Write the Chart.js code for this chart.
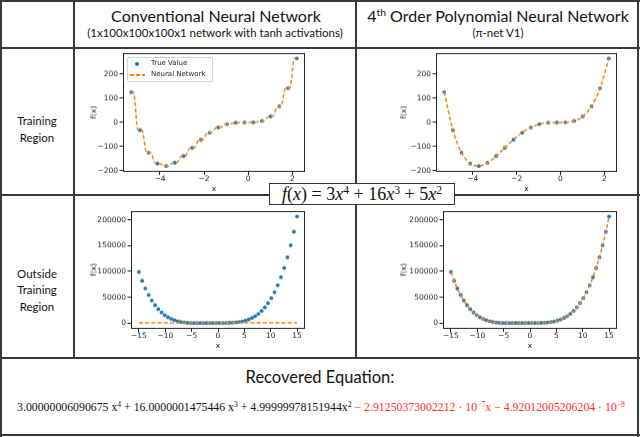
<!DOCTYPE html>
<html><head><meta charset="utf-8">
<script src="https://cdn.jsdelivr.net/npm/chart.js@4.4.0/dist/chart.umd.min.js"></script>
<style>
html,body{margin:0;padding:0;background:#fff;}
#wrap{position:relative;width:640px;height:437px;overflow:hidden;background:#fff;}
.ln{position:absolute;background:#3a3a3a;z-index:3;}
.t{position:absolute;white-space:nowrap;font-family:Lato,'Open Sans',sans-serif;color:#111;transform:translate(-50%,-50%);line-height:1;}
canvas{position:absolute;z-index:1;}
#eqbox{position:absolute;left:269px;top:183px;width:184px;height:20px;border:1px solid #333;background:#fff;z-index:5;
  font-family:'Liberation Serif',serif;font-size:18px;line-height:20px;text-align:center;color:#111;white-space:nowrap;}
#eqbox i{font-style:italic;}
sup{font-size:65%;line-height:0;vertical-align:0.55em;}
#legend{position:absolute;left:127px;top:57px;width:84px;height:23px;border:1px solid #d4d4d4;border-radius:2px;background:rgba(255,255,255,0.85);z-index:4;
  font-family:'DejaVu Sans',sans-serif;font-size:7px;color:#222;}
.li{position:absolute;left:23px;white-space:nowrap;line-height:1;}
#rec{font-family:'Liberation Serif',serif;font-size:11.8px;color:#111;}
#rec .r{color:#ff3030;}
.dash{position:absolute;left:2px;top:16px;width:15px;height:1.6px;
  background:repeating-linear-gradient(90deg,#ff7f0e 0,#ff7f0e 4px,transparent 4px,transparent 6px);}
</style></head>
<body><div id="wrap">
<div class="ln" style="left:0;top:0;width:640px;height:2px"></div>
<div class="ln" style="left:0;top:0;width:2px;height:437px"></div>
<div class="ln" style="left:637px;top:0;width:2px;height:437px"></div>
<div class="ln" style="left:0;top:434px;width:640px;height:2px"></div>
<div class="ln" style="left:73px;top:0;width:2px;height:358px"></div>
<div class="ln" style="left:355px;top:0;width:2px;height:358px"></div>
<div class="ln" style="left:0;top:47px;width:640px;height:2px"></div>
<div class="ln" style="left:0;top:194px;width:640px;height:2px"></div>
<div class="ln" style="left:0;top:357px;width:640px;height:2px"></div>

<div class="t" style="left:216px;top:16px;font-size:16px">Conventional Neural Network</div>
<div class="t" style="left:215px;top:33px;font-size:11.5px">(1x100x100x100x1 network with tanh activations)</div>
<div class="t" style="left:498px;top:16px;font-size:16px">4<sup>th</sup> Order Polynomial Neural Network</div>
<div class="t" style="left:498px;top:33px;font-size:11.5px">(π-net V1)</div>
<div class="t" style="left:37px;top:121px;font-size:11.5px">Training</div>
<div class="t" style="left:37px;top:138px;font-size:11.5px">Region</div>
<div class="t" style="left:37px;top:274px;font-size:11.5px">Outside</div>
<div class="t" style="left:37px;top:290px;font-size:11.5px">Training</div>
<div class="t" style="left:37px;top:307px;font-size:11.5px">Region</div>
<div class="t" style="left:320px;top:377px;font-size:16.5px">Recovered Equation:</div>
<div class="t" id="rec" style="left:321px;top:408px">3.00000006090675 x<sup>4</sup> + 16.0000001475446 x<sup>3</sup> + 4.99999978151944x<sup>2</sup> <span class="r">− 2.91250373002212 · 10<sup>−7</sup>x − 4.92012005206204 · 10<sup>−8</sup></span></div>

<div id="eqbox"><i>f</i>(<i>x</i>) = 3<i>x</i><sup>4</sup> + 16<i>x</i><sup>3</sup> + 5<i>x</i><sup>2</sup></div>

<div id="legend">
  <div style="position:absolute;left:7px;top:4px;width:3.8px;height:3.8px;border-radius:50%;background:#1f77b4"></div>
  <div class="li" style="top:2px">True Value</div>
  <div class="dash"></div>
  <div class="li" style="top:13px">Neural Network</div>
</div>

<canvas id="cA"></canvas><canvas id="cB"></canvas><canvas id="cC"></canvas><canvas id="cD"></canvas>
</div>
<script>
// ---------- data ----------
const trainX = [-5.3, -4.905, -4.511, -4.116, -3.721, -3.326, -2.932, -2.537, -2.142, -1.747,
                -1.353, -0.958, -0.563, -0.168, 0.226, 0.621, 1.016, 1.411, 1.805, 2.2];
const trainTrueY = [125.6, -31.4, -124.8, -170.0, -180.0, -166.3, -138.6, -104.8, -71.1, -42.1,
                    -20.4, -6.95, -0.97, 0.07, 0.45, 6.2, 25.1, 66.8, 142.2, 264.9];
// conventional NN output in the training region (staircase-like fit)
const nnTrainX = [-5.30, -5.20, -5.00, -4.82, -4.60, -4.43, -4.20, -4.03, -3.80, -3.64,
                  -3.41, -3.24, -3.02, -2.85, -2.63, -2.45, -2.23, -2.06, -1.84, -1.66,
                  -1.44, -1.27, -1.05, -0.87, -0.65, -0.48, -0.26, -0.08, 0.14, 0.31,
                  0.53, 0.71, 0.93, 1.12, 1.33, 1.48, 1.70, 1.88, 2.10, 2.20];
const nnTrainY = [125.6, 125.6, -31.4, -31.4, -124.8, -124.8, -170.0, -170.0, -180.0, -180.0,
                  -166.3, -166.3, -138.6, -138.6, -104.8, -104.8, -71.1, -71.1, -42.1, -42.1,
                  -20.4, -20.4, -6.95, -6.95, -0.97, -0.97, 0.07, 0.07, 0.45, 0.45,
                  6.2, 6.2, 25.1, 25.1, 66.8, 66.8, 142.2, 142.2, 264.9, 264.9];
// pi-net output in the training region
const piTrainY = [125.6, -31.4, -124.8, -170.0, -180.0, -166.3, -138.6, -104.8, -71.1, -42.1,
                  -20.4, -6.95, -0.97, 0.07, 0.45, 6.2, 25.1, 66.8, 142.2, 264.9];

const outX = [-15, -14.39, -13.78, -13.16, -12.55, -11.94, -11.33, -10.71, -10.10, -9.49,
              -8.88, -8.27, -7.65, -7.04, -6.43, -5.82, -5.20, -4.59, -3.98, -3.37,
              -2.76, -2.14, -1.53, -0.92, -0.31, 0.31, 0.92, 1.53, 2.14, 2.76,
              3.37, 3.98, 4.59, 5.20, 5.82, 6.43, 7.04, 7.65, 8.27, 8.88,
              9.49, 10.10, 10.71, 11.33, 11.94, 12.55, 13.16, 13.78, 14.39, 15];
const outTrueY = [99000, 81938, 67158, 54442, 43600, 34435, 26767, 20430, 15258, 11106,
                  7834, 5309, 3412, 2036, 1080, 455, 81, -110, -177, -169,
                  -124, -71, -29, -6, 0, 1, 19, 86, 244, 545,
                  1053, 1840, 2988, 4591, 6751, 9582, 13204, 17756, 23377, 30222,
                  38454, 48246, 59788, 73267, 88889, 106870, 127428, 150812, 177248, 207000];
const nnOutX = [-15, -5.3, 2.2, 15];
const nnOutY = [126, 126, 265, 265];
const piOutY = [99000, 81938, 67158, 54442, 43600, 34435, 26767, 20430, 15258, 11106,
                7834, 5309, 3412, 2036, 1080, 455, 81, -110, -177, -169,
                -124, -71, -29, -6, 0, 1, 19, 86, 244, 545,
                1053, 1840, 2988, 4591, 6751, 9582, 13204, 17756, 23377, 30222,
                38454, 48246, 59788, 73267, 88889, 106870, 127428, 150812, 177248, 207000];

const trainTicksX = [-4, -2, 0, 2];
const trainTicksY = [-200, -100, 0, 100, 200];
const outTicksX = [-15, -10, -5, 0, 5, 10, 15];
const outTicksY = [0, 50000, 100000, 150000, 200000];

// ---------- helpers ----------
const pts = (xs, ys) => xs.map((x, i) => ({x: x, y: ys[i]}));
const fmt = v => (v < 0 ? '\u2212' + Math.abs(v) : String(v));
const BLUE = '#1f77b4', ORANGE = '#ff7f0e', INK = '#222';
const tickFont = {family: 'DejaVu Sans', size: 7.5};

const framePlugin = {
  id: 'frame',
  afterDraw(chart) {
    const a = chart.chartArea, ctx = chart.ctx;
    ctx.save();
    ctx.strokeStyle = INK; ctx.lineWidth = 1;
    ctx.strokeRect(Math.round(a.left) + 0.5, Math.round(a.top) + 0.5,
                   Math.round(a.right - a.left) - 1, Math.round(a.bottom - a.top) - 1);
    ctx.restore();
  }
};

function scatterSet(xs, ys) {
  return {type: 'scatter', data: pts(xs, ys), showLine: false, pointRadius: 1.9,
          pointBackgroundColor: BLUE, pointBorderWidth: 0, order: 2};
}
function lineSet(xs, ys) {
  return {type: 'line', data: pts(xs, ys), showLine: true, pointRadius: 0, borderColor: ORANGE,
          borderWidth: 1.5, borderDash: [4, 2.2], cubicInterpolationMode: 'monotone', fill: false, order: 1};
}

function build(id, g, datasets, xr, yr, xt, yt) {
  const c = document.getElementById(id);
  const padT = 10, padR = 14;
  const w = g.yw + (g.R - g.L) + padR, h = padT + (g.B - g.T) + g.xh;
  c.width = w; c.height = h;
  c.style.width = w + 'px'; c.style.height = h + 'px';
  c.style.left = (g.L - g.yw) + 'px'; c.style.top = (g.T - padT) + 'px';
  new Chart(c, {
    type: 'scatter',
    data: {datasets: datasets},
    plugins: [framePlugin],
    options: {
      responsive: false, animation: false, devicePixelRatio: 1,
      layout: {padding: {left: 0, top: padT, right: padR, bottom: 0}},
      plugins: {legend: {display: false}, tooltip: {enabled: false}},
      scales: {
        x: {type: 'linear', min: xr[0], max: xr[1],
            afterFit: s => { s.height = g.xh; },
            afterBuildTicks: s => { s.ticks = xt.map(v => ({value: v})); },
            border: {display: false},
            grid: {drawOnChartArea: false, drawTicks: true, tickLength: 3.5, color: INK, lineWidth: 1},
            ticks: {font: tickFont, color: INK, padding: 0, maxRotation: 0, autoSkip: false, callback: v => fmt(v)},
            title: {display: true, text: 'x', font: tickFont, color: INK, padding: 0}},
        y: {type: 'linear', min: yr[0], max: yr[1],
            afterFit: s => { s.width = g.yw; },
            afterBuildTicks: s => { s.ticks = yt.map(v => ({value: v})); },
            border: {display: false},
            grid: {drawOnChartArea: false, drawTicks: true, tickLength: 3.5, color: INK, lineWidth: 1},
            ticks: {font: tickFont, color: INK, padding: 1.5, autoSkip: false, callback: v => fmt(v)},
            title: {display: true, text: 'f(x)', font: tickFont, color: INK, padding: 0}}
      }
    }
  });
}

const trainXR = [-5.675, 2.575], trainYR = [-202.2, 287.1];
const outXR = [-16.5, 16.5], outYR = [-10539, 217359];

build('cA', {L: 123, R: 305, T: 53, B: 171, yw: 33, xh: 22.5},
      [scatterSet(trainX, trainTrueY), lineSet(nnTrainX, nnTrainY)], trainXR, trainYR, trainTicksX, trainTicksY);
build('cB', {L: 436, R: 617, T: 53, B: 171, yw: 36, xh: 22.5},
      [scatterSet(trainX, trainTrueY), lineSet(trainX, piTrainY)], trainXR, trainYR, trainTicksX, trainTicksY);
build('cC', {L: 131, R: 305, T: 211, B: 328, yw: 41, xh: 22.5},
      [scatterSet(outX, outTrueY), lineSet(nnOutX, nnOutY)], outXR, outYR, outTicksX, outTicksY);
build('cD', {L: 443, R: 617, T: 211, B: 328, yw: 43, xh: 22.5},
      [scatterSet(outX, outTrueY), lineSet(outX, piOutY)], outXR, outYR, outTicksX, outTicksY);
</script>
</body></html>
